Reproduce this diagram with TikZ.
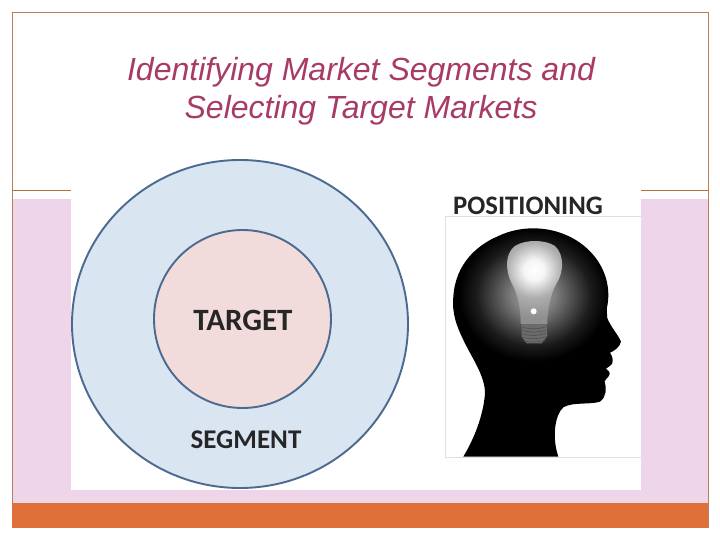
\documentclass[tikz,border=0pt]{standalone}
\usepackage{fontspec}
\usetikzlibrary{shapes.geometric}
\setmainfont{Liberation Sans}
\newfontfamily\labelfont{Carlito}
\definecolor{framebrown}{HTML}{B5805A}
\definecolor{rulebrown}{HTML}{B5703F}
\definecolor{panelpink}{HTML}{EFD5EA}
\definecolor{barorange}{HTML}{E0703A}
\definecolor{titlecol}{HTML}{A83A68}
\definecolor{ringblue}{HTML}{DAE5F2}
\definecolor{ringedge}{HTML}{4A6A90}
\definecolor{corepink}{HTML}{F2DCDB}
\definecolor{labelgray}{HTML}{262626}
\pgfdeclareradialshading{headglow}{\pgfpoint{0pt}{0pt}}{%
  color(0bp)=(white!62!black); color(7bp)=(white!50!black); color(13bp)=(white!30!black);
  color(19bp)=(white!11!black); color(25bp)=(black); color(50bp)=(black)}
\pgfdeclareradialshading{bulbglow}{\pgfpoint{0pt}{0pt}}{%
  color(0bp)=(white); color(3bp)=(white!96!black); color(8bp)=(white!68!black); color(14bp)=(white!56!black); color(50bp)=(white!52!black)}
\tikzset{
  ring/.style={draw=ringedge,line width=1.9pt},
  biglabel/.style={font=\labelfont\bfseries\fontsize{31}{33}\selectfont,text=labelgray,inner sep=0pt},
  seglabel/.style={font=\labelfont\bfseries\fontsize{27}{29}\selectfont,text=labelgray,inner sep=0pt},
  poslabel/.style={font=\labelfont\bfseries\fontsize{26.7}{29}\selectfont,text=labelgray,inner sep=0pt},
  titletext/.style={font=\itshape\fontsize{32}{38.5}\selectfont,text=titlecol,align=center,inner sep=0pt}
}
\begin{document}
\begin{tikzpicture}[x=1pt,y=-1pt]
\useasboundingbox (0,0) rectangle (720,540);
\fill[white] (0,0) rectangle (720,540);
% panels
\fill[panelpink] (12,199) rectangle (708,503);
\draw[framebrown,line width=0.9pt] (12,12.5) rectangle (708,527);
\draw[rulebrown,line width=0.9pt] (12,190.5) -- (708,190.5);
\fill[barorange] (11.5,503) rectangle (708,527.5);
% picture background
\fill[white] (71,186) rectangle (641,490);
% title
\node[titletext] (title) at (361,91) {Identifying Market Segments and\\Selecting Target Markets};
% rings
\node[ring,ellipse,minimum width=336pt,minimum height=328pt,fill=ringblue,inner sep=0pt] (segmentring) at (240,324) {};
\node[ring,ellipse,minimum width=177pt,minimum height=178pt,fill=corepink,inner sep=0pt] (targetring) at (242.5,319) {};
\node[biglabel] (target) at (243,320) {TARGET};
\node[seglabel] (segment) at (246,440) {SEGMENT};
\node[poslabel] (positioning) at (528,206) {POSITIONING};
% head picture frame
\draw[gray!25,line width=0.7pt] (641,216.5) -- (445.5,216.5) -- (445.5,457) -- (641,457);
\begin{scope}[shift={(430,180)},x=0.3333pt,y=-0.3333pt]
 \fill[black] (100,830) .. controls (130,780) and (160,710) .. (165,640)
   .. controls (165,590) and (130,540) .. (105,490)
   .. controls (80,440) and (65,400) .. (70,350)
   .. controls (75,270) and (120,210) .. (190,175)
   .. controls (260,150) and (350,148) .. (410,170)
   .. controls (470,195) and (515,265) .. (528,340)
   .. controls (530,370) and (530,395) .. (532,415)
   .. controls (545,445) and (565,465) .. (573,485)
   .. controls (570,500) and (555,512) .. (540,518)
   .. controls (548,530) and (550,540) .. (546,552)
   .. controls (540,560) and (532,562) .. (528,566)
   .. controls (535,570) and (542,578) .. (538,586)
   .. controls (532,595) and (526,598) .. (524,604)
   .. controls (530,625) and (530,650) .. (510,665)
   .. controls (480,675) and (430,665) .. (400,682)
   .. controls (375,705) and (365,770) .. (385,830) -- cycle;
 % glow
 \shade[shading=headglow] (310,345) ellipse [x radius=225,y radius=200];
 % lamp base
 \fill[white!42!black] (275,432) -- (350,432) -- (352,468) -- (335,490) -- (290,490) -- (275,470) -- cycle;
 \foreach \yy in {442,452,462,472,482}
   \draw[black!70,line width=0.5pt] (278,\yy) .. controls (300,\yy+6) and (325,\yy+6) .. (348,\yy-2);
 % bulb
 \begin{scope}
  \clip (272,432) .. controls (272,380) and (262,340) .. (245,310)
     .. controls (225,270) and (225,220) .. (255,198)
     .. controls (285,178) and (345,178) .. (375,198)
     .. controls (405,225) and (400,280) .. (380,310)
     .. controls (362,340) and (352,390) .. (352,432) -- cycle;
  \shade[shading=bulbglow] (312,270) circle (260);
 \end{scope}
 \fill[white] (311,394) circle (9);
\end{scope}
\end{tikzpicture}
\end{document}
